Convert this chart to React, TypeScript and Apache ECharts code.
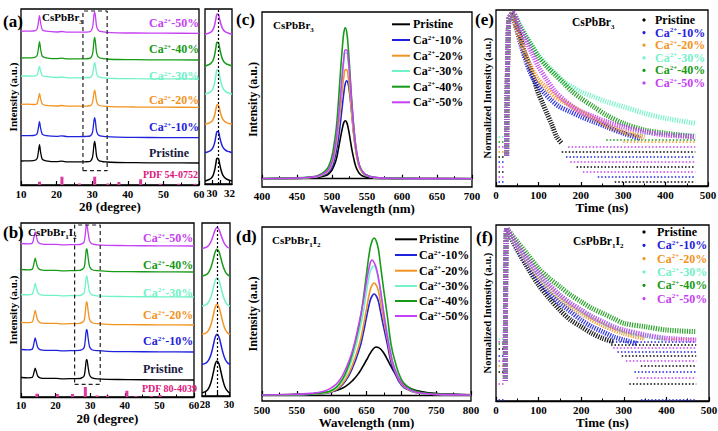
import React, { useEffect, useRef } from "react";
import * as echarts from "echarts";

const FONT = '"Liberation Serif", "Times New Roman", serif';
const COLORS = ["#000000", "#1e22dc", "#f39322", "#72f2c8", "#179a17", "#c640f4"];
const SAMPLES = ["Pristine", "10%", "20%", "30%", "40%", "50%"];
const XRD_PRISTINE_TEXT = "#1a1a40";
const PDF_TEXT = "#e0147c";
const PDF_BAR = "#dc3a9e";

// ---------- (a) XRD CsPbBr3 ----------
const xrdAX = [10, 12, 13.5, 14.5, 14.9, 15.2, 15.5, 16, 17, 20, 21.5, 23, 26, 28, 29.5, 30.1, 30.5, 30.7, 30.9, 31.3, 32, 34, 37, 42, 50, 60];
const xrdAPristine = [24, 24.2, 24.3, 26.2, 33.7, 40.4, 32.9, 25.6, 24.2, 23.3, 23.8, 23.1, 23.1, 23.2, 23.8, 28, 40.4, 43.5, 39.4, 27.9, 24.1, 23, 22.5, 22.3, 22.1, 22];
const xrdACa10 = [49.3, 49.4, 49.5, 51.1, 57.6, 63.3, 56.9, 50.6, 49.4, 48.6, 49.1, 48.4, 48.4, 48.5, 49.1, 52.9, 64.5, 67.4, 63.5, 52.8, 49.4, 48.3, 47.8, 47.6, 47.4, 47.3];
const xrdACa20 = [80.7, 80.8, 80.5, 81.2, 86.8, 91.7, 86.2, 80.8, 79.7, 79, 79.5, 78.8, 78.8, 78.8, 79.3, 82.6, 92.4, 94.8, 91.5, 82.5, 79.5, 78.6, 78.2, 78, 77.8, 77.7];
const xrdACa30 = [109, 109, 108.8, 109.8, 114.6, 118.9, 114.1, 109.4, 108.3, 107.5, 108, 107.2, 107.1, 107.1, 107.6, 110.7, 120.1, 122.5, 119.4, 110.6, 107.8, 106.9, 106.5, 106.3, 106.1, 106];
const xrdACa40 = [127, 127.2, 127.3, 129.2, 136.7, 143.4, 135.9, 128.6, 127.2, 126.3, 126.8, 126.1, 126.1, 126.2, 126.9, 131.2, 144.2, 147.5, 143.2, 131.1, 127.2, 126, 125.5, 125.3, 125.1, 125];
const xrdACa50 = [153.7, 153.9, 154, 155.8, 163, 169.4, 162.2, 155.2, 153.8, 153, 153.5, 152.8, 152.8, 152.9, 153.5, 157.7, 170.1, 173.2, 169.1, 157.6, 153.8, 152.7, 152.2, 152, 151.8, 151.7];
const pdfAPos = [15.2, 21.5, 26.4, 30.7, 34.4, 37.5, 43.6, 49.1, 54.3, 58.9];
const pdfAH = [3.3, 8.3, 1.5, 8.3, 1.5, 3, 5.7, 1.2, 1.2, 1.2];
const boxA = [[27.4, 14.3], [34.2, 14.3], [34.2, 174], [27.4, 174], [27.4, 14.3]];
const labelAY = [153.3, 127, 100, 76, 49.3, 23.3];

// (a) inset
const insAX = [29.2, 29.6, 29.9, 30.1, 30.3, 30.45, 30.6, 30.75, 30.9, 31.1, 31.3, 31.6, 32.0, 32.3];
const insAPristine = [3, 4.2, 5.8, 8.1, 13.5, 20.5, 25.8, 25.1, 19.3, 12.3, 8.1, 5.3, 3.9, 3];
const insACa10 = [31.3, 32.4, 33.9, 36.1, 41.1, 47.6, 52.6, 51.9, 46.5, 40, 36.1, 33.5, 32.2, 31.3];
const insACa20 = [59.7, 60.7, 62.1, 64.1, 68.7, 74.7, 79.3, 78.7, 73.7, 67.7, 64.1, 61.7, 60.5, 59.7];
const insACa30 = [89.7, 91, 92.7, 95.2, 101, 108.5, 114.2, 113.5, 107.2, 99.7, 95.2, 92.2, 90.7, 89.7];
const insACa40 = [118, 119.2, 120.9, 123.3, 128.9, 136.2, 141.8, 141.1, 135, 127.7, 123.3, 120.4, 119, 118];
const insACa50 = [149.7, 150.7, 152.2, 154.2, 159, 165.2, 169.9, 169.3, 164.1, 157.9, 154.2, 151.8, 150.5, 149.7];
const insAGuide = 30.7;

// ---------- (b) XRD CsPbBr1I2 ----------
const xrdBX = [10, 12, 13.3, 13.8, 14.1, 14.4, 14.8, 15.5, 17, 20.2, 22, 25, 27, 28.2, 28.6, 28.9, 29.1, 29.4, 29.8, 30.5, 32, 35, 41, 50, 60];
const xrdBPristine = [19.5, 19.2, 19.8, 25.3, 28.8, 25.7, 21.2, 19.2, 18.6, 18.6, 18.1, 18.4, 18.5, 20.8, 28.8, 37.4, 36.8, 29.8, 22.1, 19.1, 18.2, 17.7, 17.4, 17.1, 17];
const xrdBCa10 = [47.5, 47.2, 48, 54.8, 59.1, 55.3, 49.8, 47.3, 46.6, 46.6, 46.1, 46.4, 46.6, 49.1, 57.9, 67.4, 66.7, 59, 50.5, 47.2, 46.3, 45.7, 45.4, 45.1, 45];
const xrdBCa20 = [74.5, 74.3, 75.1, 82.1, 86.5, 82.6, 76.9, 74.4, 73.7, 73.6, 73.1, 73.4, 73.6, 76.2, 85.3, 95, 94.4, 86.4, 77.7, 74.3, 73.3, 72.7, 72.4, 72.1, 72];
const xrdBCa30 = [102.5, 102.2, 103, 109.4, 113.5, 109.9, 104.6, 102.3, 101.6, 101.6, 101.1, 101.4, 101.5, 103.9, 112.1, 120.9, 120.3, 113.1, 105.2, 102.1, 101.2, 100.7, 100.4, 100.1, 100];
const xrdBCa40 = [127.5, 127.2, 128, 134.6, 138.8, 135.1, 129.7, 127.3, 126.6, 126.6, 126.1, 126.4, 126.6, 129.2, 138.3, 148, 147.4, 139.4, 130.7, 127.3, 126.3, 125.7, 125.4, 125.1, 125];
const xrdBCa50 = [153.5, 153.2, 154, 160.8, 165.1, 161.3, 155.8, 153.3, 152.6, 152.6, 152.1, 152.4, 152.5, 154.9, 163.2, 172.1, 171.5, 164.2, 156.3, 153.1, 152.2, 151.7, 151.4, 151.1, 151];
const pdfBPos = [14.6, 20.5, 24.9, 28.6, 32, 35, 40.6, 43.2, 47.7, 50.2];
const pdfBH = [3.3, 3, 3, 10, 1.5, 1.5, 6.3, 1, 1, 2];
const boxB = [[25.5, 12.7], [32.9, 12.7], [32.9, 172], [25.5, 172], [25.5, 12.7]];
const labelBY = [369, 341, 315, 292.7, 265, 238.3];

// (b) inset
const insBX = [27.75, 28.1, 28.3, 28.5, 28.7, 28.85, 29.0, 29.15, 29.3, 29.5, 29.7, 29.9, 30.08];
const insBPristine = [3.3, 4.9, 7.7, 13.8, 23.9, 31.8, 35, 32.5, 25.5, 15.3, 8, 4.6, 3.3];
const insBCa10 = [31.7, 33.2, 35.9, 41.6, 51.2, 58.7, 61.7, 59.3, 52.7, 43.1, 36.2, 32.9, 31.7];
const insBCa20 = [61.7, 63.2, 65.9, 71.6, 81.2, 88.7, 91.7, 89.3, 82.7, 73.1, 66.2, 62.9, 61.7];
const insBCa30 = [90, 91.4, 94, 99.3, 108.4, 115.5, 118.3, 116, 109.8, 100.8, 94.2, 91.1, 90];
const insBCa40 = [120, 121.3, 123.7, 128.8, 137.4, 144, 146.7, 144.6, 138.7, 130.1, 124, 121.1, 120];
const insBCa50 = [147.7, 148.7, 150.6, 154.5, 161.1, 166.2, 168.3, 166.7, 162.1, 155.5, 150.8, 148.5, 147.7];
const insBGuide = 29.0;

// ---------- (c) PL CsPbBr3 ----------
const plCX = [400, 440, 460, 470, 480, 490, 495, 500, 503, 506, 509, 512, 515, 517, 519, 521, 523, 525, 528, 531, 534, 537, 540, 545, 550, 560, 580, 620, 700];
const plCPristine = [0, 0.2, 0.5, 0.7, 1.2, 2.9, 4.6, 8.7, 13.3, 19.1, 29, 40.6, 51, 56.3, 58, 56.3, 51, 43.5, 30.7, 20.3, 12.2, 7.5, 4.6, 2.3, 1.3, 0.6, 0.2, 0.1, 0];
const plCCa10 = [0, 0.4, 0.8, 1.2, 1.9, 4.1, 6.4, 11.3, 17.6, 26.5, 39.2, 55.9, 74.5, 86.2, 95.1, 98, 95.1, 86.2, 66.6, 45.1, 29.4, 17.6, 10.8, 4.9, 2.7, 1.1, 0.4, 0.1, 0];
const plCCa20 = [0, 0.4, 0.9, 1.3, 2.2, 5, 7.7, 14.3, 22, 33, 49.5, 69.3, 90.2, 102.3, 108.9, 108.9, 102.3, 90.2, 66, 44, 27.5, 16.5, 9.9, 5, 2.8, 1.1, 0.4, 0.1, 0];
const plCCa30 = [0, 0.5, 1, 1.5, 2.5, 5.7, 8.9, 16.5, 25.4, 38.1, 57.2, 80, 104.1, 118.1, 125.7, 125.7, 118.1, 104.1, 76.2, 50.8, 31.8, 19.1, 11.4, 5.7, 3.2, 1.3, 0.5, 0.1, 0];
const plCCa40 = [0, 0.6, 1.2, 1.8, 3.2, 7.6, 12.1, 22.7, 34.7, 49.8, 75.5, 105.7, 132.9, 146.5, 151, 146.5, 132.9, 113.3, 80, 52.9, 31.7, 19.6, 12.1, 6, 3.5, 1.5, 0.6, 0.2, 0];
const plCCa50 = [0, 0.5, 1, 1.6, 2.6, 5.9, 9.1, 16.9, 26, 39, 58.5, 81.9, 106.6, 120.9, 128.7, 128.7, 120.9, 106.6, 78, 52, 32.5, 19.5, 11.7, 5.9, 3.3, 1.3, 0.5, 0.1, 0];

// ---------- (d) PL CsPbBr1I2 ----------
const plDX = [500, 540, 570, 590, 600, 610, 620, 630, 640, 645, 650, 655, 658, 661, 664, 667, 670, 675, 680, 685, 690, 700, 710, 720, 740, 760, 800];
const plDPristine = [0.1, 0.5, 1.2, 2.4, 3.6, 5.3, 8.6, 14.4, 23, 28.8, 35, 41.3, 44.6, 47, 48, 47.5, 46.1, 41.8, 35.5, 28.8, 22.6, 13, 7.7, 4.8, 2.2, 1.1, 0.3];
const plDCa10 = [0, 0.2, 0.6, 1.6, 3, 6.6, 14.1, 27.3, 46.5, 60.6, 77.8, 93.9, 99, 101, 99, 93.9, 83.8, 66.7, 50.5, 33.3, 23.2, 10.1, 5.1, 2.5, 1, 0.4, 0];
const plDCa20 = [0, 0.2, 0.7, 1.8, 3.4, 7.3, 15.7, 30.2, 51.5, 67.2, 86.2, 104.2, 109.8, 112, 109.8, 104.2, 93, 73.9, 56, 37, 25.8, 11.2, 5.6, 2.8, 1.1, 0.4, 0];
const plDCa30 = [0, 0.3, 0.8, 2.2, 4.1, 9, 19.4, 37.4, 64.5, 81.3, 103.2, 122.6, 127.7, 129, 125.1, 116.1, 103.2, 81.3, 61.9, 41.3, 28.4, 12.9, 6.2, 3, 1, 0.4, 0];
const plDCa40 = [0, 0.3, 0.9, 2.5, 4.7, 10.2, 22, 42.4, 72.2, 94.2, 120.9, 146, 153.9, 157, 153.9, 146, 130.3, 103.6, 78.5, 51.8, 36.1, 15.7, 7.9, 3.9, 1.6, 0.6, 0];
const plDCa50 = [0, 0.5, 1.6, 4.1, 7.4, 13.5, 25.7, 44.6, 74.3, 91.8, 113.4, 131, 135, 132.3, 126.9, 117.5, 105.3, 81, 58, 40.5, 27, 12.2, 6.1, 3, 1.1, 0.4, 0];

// ---------- (e) TRPL CsPbBr3 [time ns, level] ----------
const trplEPristine = [[25, 30], [30, 166], [38, 171], [45, 162.7], [57, 149.3], [68, 132.7], [80, 119.3], [90, 106], [100, 92.7], [110, 82.7], [120, 72.7], [132, 61], [143, 49.3], [155, 42.7]];
const trplECa10 = [[25, 30], [30, 166], [38, 172], [48, 157.7], [60, 139.3], [70, 126], [80, 114.3], [90, 106], [100, 100], [115, 92.7], [130, 86], [150, 79.3], [175, 74.3], [200, 69.3], [230, 64.3], [260, 59.3], [300, 52.7], [340, 47.7]];
const trplECa20 = [[25, 30], [30, 166], [38, 172], [48, 157.7], [60, 142.7], [70, 131], [80, 121], [90, 112.7], [100, 106], [120, 97.7], [140, 89.3], [160, 84.3], [180, 79.3], [200, 74.3], [230, 67.7], [260, 61], [300, 54.3], [350, 48.7]];
const trplECa30 = [[25, 30], [30, 166], [40, 172.7], [55, 162], [70, 151], [85, 141], [100, 131], [120, 121], [140, 112.7], [160, 104.3], [180, 99.3], [200, 94.3], [230, 89.3], [260, 84.3], [300, 79.3], [350, 72.7], [400, 67.7], [470, 62.7]];
const trplECa40 = [[25, 30], [30, 166], [40, 172.7], [55, 161], [70, 149.3], [85, 139.3], [100, 129.3], [120, 119.3], [140, 111], [160, 102.7], [180, 94.3], [200, 87.7], [230, 79.3], [260, 71], [300, 62.7], [350, 56], [400, 52.7], [470, 49.3]];
const trplECa50 = [[25, 30], [30, 166], [40, 172.7], [55, 159.3], [70, 146], [85, 132.7], [100, 119.3], [120, 106], [140, 94.3], [160, 86], [180, 79.3], [200, 74.3], [230, 69.3], [260, 64.3], [300, 59.3], [350, 54.3], [400, 51], [470, 49.3]];
// noise floor rows [tStart, tEnd, level]
const floorEPristine = [[155, 470, 34.3], [190, 470, 19.3], [280, 470, 4.3], [6, 22, 29.3], [6, 22, 14.3]];
const floorECa10 = [[165, 470, 29.3], [240, 470, 9.3], [6, 22, 24.3], [6, 22, 4.3]];
const floorECa20 = [[6, 22, 34.3], [300, 470, 44]];
const floorECa30 = [[6, 22, 49], [300, 470, 52]];
const floorECa40 = [[6, 22, 44], [260, 470, 46]];
const floorECa50 = [[170, 470, 39.3], [175, 470, 24.3], [205, 470, 14.3], [6, 22, 39.3], [6, 22, 19.3], [6, 22, 9.3]];

// ---------- (f) TRPL CsPbBr1I2 ----------
const trplFPristine = [[22, 20], [25, 172.7], [50, 151], [75, 132.7], [100, 116], [125, 102.7], [150, 91], [175, 81], [200, 74.3], [225, 67.7], [250, 62.7], [275, 59.3]];
const trplFCa10 = [[22, 20], [25, 172.7], [50, 152.7], [75, 136], [100, 121], [125, 107.7], [150, 97.7], [175, 89.3], [200, 81], [225, 74.3], [250, 69.3], [275, 64.3], [300, 61], [330, 57.7]];
const trplFCa20 = [[22, 20], [25, 172.7], [50, 154.3], [100, 124.3], [150, 102.7], [200, 87.7], [250, 76], [300, 67.7], [350, 62.7]];
const trplFCa30 = [[22, 20], [25, 172.7], [50, 155.3], [100, 126.7], [150, 105], [200, 90], [250, 78.7], [300, 70], [350, 65.3], [400, 62]];
const trplFCa40 = [[22, 20], [25, 172.7], [50, 159.3], [75, 146], [100, 132.7], [125, 122.7], [150, 114.3], [175, 106], [200, 99.3], [225, 92.7], [250, 87.7], [275, 82.7], [300, 77.7], [350, 74.3], [400, 71], [470, 69.3]];
const trplFCa50 = [[22, 20], [25, 172.7], [50, 156], [75, 141], [100, 127.7], [125, 116], [150, 106], [175, 97.7], [200, 91], [225, 84.3], [250, 79.3], [275, 74.3], [300, 71], [350, 66], [400, 62.7], [470, 61]];
const floorFPristine = [[270, 470, 56.7], [295, 470, 45.3], [340, 470, 35.3], [313, 470, 17.7], [6, 22, 52], [6, 22, 29.3]];
const floorFCa10 = [[265, 470, 59.3], [285, 470, 49.3], [325, 470, 29.3], [340, 470, 1.5], [6, 22, 45], [6, 22, 1.5]];
const floorFCa20 = [[380, 470, 62.5], [6, 22, 35]];
const floorFCa30 = [[6, 22, 62]];
const floorFCa40 = [[6, 22, 57]];
const floorFCa50 = [[275, 470, 53.3], [305, 470, 40.3], [330, 470, 23], [6, 22, 59], [6, 22, 40], [6, 22, 17.7]];

// ---------- builders ----------
function pairs(xs: number[], ys: number[]) {
  return xs.map((x, i) => [x, ys[i]]);
}
function sampleText(i: number) {
  return i === 0 ? "{b|Pristine}" : "{b|Ca}{s|2+}{b|-" + SAMPLES[i] + "}";
}
function richStyle(size: number, color: string, lh: number) {
  const sm = Math.round(size * 0.62);
  return {
    b: { fontSize: size, fontWeight: "bold", fontFamily: FONT, fill: color, color, lineHeight: lh },
    s: { fontSize: sm, fontWeight: "bold", fontFamily: FONT, fill: color, color, verticalAlign: "top" },
    u: { fontSize: sm, fontWeight: "bold", fontFamily: FONT, fill: color, color, verticalAlign: "bottom" },
  };
}
function text(x: number, y: number, t: string, size: number, color: string, lh?: number) {
  return {
    type: "text",
    x,
    y,
    silent: true,
    z: 100,
    style: {
      text: t,
      fill: color,
      fontSize: size,
      fontWeight: "bold",
      fontFamily: FONT,
      align: "left",
      verticalAlign: "middle",
      rich: richStyle(size, color, lh === undefined ? size : lh),
    },
  };
}

const axisLabelStyle = { color: "#000", fontFamily: FONT, fontWeight: "bold", fontSize: 11, margin: 3 };
const tickStyle = { show: true, inside: true, length: 4, lineStyle: { color: "#000", width: 1.2 } };
const minorTickStyle = { show: true, splitNumber: 2, length: 2.5, lineStyle: { color: "#000", width: 1 } };

function xAxis(gi: number, min: number, max: number, interval: number | undefined, name: string, extra: any = {}) {
  return {
    type: "value",
    gridIndex: gi,
    min,
    max,
    interval,
    name,
    nameLocation: "middle",
    nameGap: 13,
    nameTextStyle: { color: "#000", fontFamily: FONT, fontWeight: "bold", fontSize: 13 },
    axisLine: { show: true, lineStyle: { color: "#000", width: 1.3 } },
    axisTick: tickStyle,
    minorTick: minorTickStyle,
    axisLabel: axisLabelStyle,
    splitLine: { show: false },
    minorSplitLine: { show: false },
    ...extra,
  };
}
function yAxis(gi: number, min: number, max: number, name: string, nameSize: number) {
  return {
    type: "value",
    gridIndex: gi,
    min,
    max,
    name,
    nameLocation: "middle",
    nameGap: 3,
    nameTextStyle: { color: "#000", fontFamily: FONT, fontWeight: "bold", fontSize: nameSize },
    axisLine: { show: false },
    axisTick: { show: false },
    axisLabel: { show: false },
    splitLine: { show: false },
  };
}
function grid(left: number, top: number, width: number, height: number) {
  return { left, top, width, height, show: true, borderColor: "#000", borderWidth: 1.3, containLabel: false, outerBoundsMode: "none" };
}
function lineS(ai: number, data: any[], color: string, width: number, smooth: any, extra: any = {}) {
  return {
    type: "line",
    xAxisIndex: ai,
    yAxisIndex: ai,
    data,
    symbol: "none",
    smooth,
    silent: true,
    lineStyle: { color, width },
    itemStyle: { color },
    ...extra,
  };
}
function guide(x: number) {
  return {
    markLine: {
      silent: true,
      symbol: ["none", "none"],
      label: { show: false },
      lineStyle: { type: [2, 2], color: "#000", width: 1.2 },
      data: [{ xAxis: x }],
    },
  };
}
function floorS(ai: number, rows: number[][], color: string) {
  return {
    type: "lines",
    coordinateSystem: "cartesian2d",
    xAxisIndex: ai,
    yAxisIndex: ai,
    silent: true,
    data: rows.map((r) => ({ coords: [[r[0], r[2]], [r[1], r[2]]] })),
    lineStyle: { color, width: 1.6, type: [1.5, 2], opacity: 1, curveness: 0 },
  };
}
function trplS(ai: number, d: number[][], color: string) {
  return lineS(ai, d, color, 5, 0.3, { lineStyle: { color, width: 5, type: [1.2, 1.2], opacity: 0.9 } });
}

export default function App() {
  const ref = useRef<HTMLDivElement>(null);
  useEffect(() => {
    if (!ref.current) return;
    const chart = echarts.init(ref.current, undefined, { renderer: "svg" });

    const xrdA = [xrdAPristine, xrdACa10, xrdACa20, xrdACa30, xrdACa40, xrdACa50];
    const insA = [insAPristine, insACa10, insACa20, insACa30, insACa40, insACa50];
    const xrdB = [xrdBPristine, xrdBCa10, xrdBCa20, xrdBCa30, xrdBCa40, xrdBCa50];
    const insB = [insBPristine, insBCa10, insBCa20, insBCa30, insBCa40, insBCa50];
    const plC = [plCPristine, plCCa10, plCCa20, plCCa30, plCCa40, plCCa50];
    const plD = [plDPristine, plDCa10, plDCa20, plDCa30, plDCa40, plDCa50];
    const trE = [trplEPristine, trplECa10, trplECa20, trplECa30, trplECa40, trplECa50];
    const trF = [trplFPristine, trplFCa10, trplFCa20, trplFCa30, trplFCa40, trplFCa50];
    const flE = [floorEPristine, floorECa10, floorECa20, floorECa30, floorECa40, floorECa50];
    const flF = [floorFPristine, floorFCa10, floorFCa20, floorFCa30, floorFCa40, floorFCa50];

    const series: any[] = [];
    // (a)
    xrdA.forEach((ys, i) => series.push(lineS(0, pairs(xrdAX, ys), COLORS[i], 1.3, 0.25)));
    series.push(lineS(0, boxA, "#222", 1.2, false, { lineStyle: { color: "#222", width: 1.2, type: [4, 3] } }));
    series.push({ type: "bar", xAxisIndex: 0, yAxisIndex: 0, data: pairs(pdfAPos, pdfAH), barWidth: 3, silent: true, itemStyle: { color: PDF_BAR } });
    insA.forEach((ys, i) => series.push(lineS(1, pairs(insAX, ys), COLORS[i], 1.5, true, i === 0 ? guide(insAGuide) : {})));
    // (b)
    xrdB.forEach((ys, i) => series.push(lineS(2, pairs(xrdBX, ys), COLORS[i], 1.3, 0.25)));
    series.push(lineS(2, boxB, "#222", 1.2, false, { lineStyle: { color: "#222", width: 1.2, type: [4, 3] } }));
    series.push({ type: "bar", xAxisIndex: 2, yAxisIndex: 2, data: pairs(pdfBPos, pdfBH), barWidth: 3, silent: true, itemStyle: { color: PDF_BAR } });
    insB.forEach((ys, i) => series.push(lineS(3, pairs(insBX, ys), COLORS[i], 1.5, true, i === 0 ? guide(insBGuide) : {})));
    // (c), (d)
    plC.forEach((ys, i) => series.push(lineS(4, pairs(plCX, ys), COLORS[i], 1.6, true)));
    plD.forEach((ys, i) => series.push(lineS(5, pairs(plDX, ys), COLORS[i], 1.6, true)));
    // (e), (f)
    flE.forEach((rows, i) => series.push(floorS(6, rows, COLORS[i])));
    flF.forEach((rows, i) => series.push(floorS(7, rows, COLORS[i])));
    trE.forEach((d, i) => series.push(trplS(6, d, COLORS[i])));
    trF.forEach((d, i) => series.push(trplS(7, d, COLORS[i])));

    const els: any[] = [];
    // panel letters
    els.push(text(3, 21, "(a)", 17, "#000"));
    els.push(text(3, 232, "(b)", 17, "#000"));
    els.push(text(236, 19, "(c)", 17, "#000"));
    els.push(text(236, 236, "(d)", 17, "#000"));
    els.push(text(475, 19, "(e)", 17, "#000"));
    els.push(text(476, 237, "(f)", 17, "#000"));
    // titles (subscripts)
    els.push(text(42, 17, "{b|CsPbBr}{u|3}", 11, "#000", 17));
    els.push(text(28, 232, "{b|CsPbBr}{u|1}{b|I}{u|2}", 11, "#000", 17));
    els.push(text(273, 25, "{b|CsPbBr}{u|3}", 11, "#000", 17));
    els.push(text(272, 240, "{b|CsPbBr}{u|1}{b|I}{u|2}", 11, "#000", 17));
    els.push(text(572, 22, "{b|CsPbBr}{u|3}", 11.5, "#000", 17));
    els.push(text(573, 241, "{b|CsPbBr}{u|1}{b|I}{u|2}", 11.5, "#000", 17));
    // PDF labels
    els.push(text(143, 174, "PDF 54-0752", 10, PDF_TEXT));
    els.push(text(142, 388, "PDF 80-4039", 10, PDF_TEXT));
    // XRD curve labels
    SAMPLES.forEach((_, i) => {
      const c = i === 0 ? XRD_PRISTINE_TEXT : COLORS[i];
      els.push(text(149, labelAY[i], sampleText(i), 12, c));
      els.push(text(143, labelBY[i], sampleText(i), 12, c));
    });
    // PL legends
    const legC = [24.3, 40, 55.7, 71, 86.7, 102.3];
    const legD = [239.3, 255, 270.7, 286, 301, 316];
    SAMPLES.forEach((_, i) => {
      els.push({ type: "line", silent: true, shape: { x1: 392, y1: legC[i], x2: 410, y2: legC[i] }, style: { stroke: COLORS[i], lineWidth: 2 } });
      els.push(text(413, legC[i], sampleText(i), 12, "#000"));
      els.push({ type: "line", silent: true, shape: { x1: 395, y1: legD[i], x2: 417, y2: legD[i] }, style: { stroke: COLORS[i], lineWidth: 2 } });
      els.push(text(419, legD[i], sampleText(i), 12, "#000"));
    });
    // TRPL legends
    const legE = [20, 32.6, 45.2, 57.8, 70.4, 83];
    const legF = [232, 245.3, 258.6, 272, 285.3, 298.6];
    SAMPLES.forEach((_, i) => {
      els.push({ type: "circle", silent: true, shape: { cx: 644, cy: legE[i], r: 1.6 }, style: { fill: COLORS[i] } });
      els.push(text(655, legE[i], sampleText(i), 12, COLORS[i]));
      els.push({ type: "circle", silent: true, shape: { cx: 644, cy: legF[i], r: 1.6 }, style: { fill: COLORS[i] } });
      els.push(text(657, legF[i], sampleText(i), 12, COLORS[i]));
    });

    const option: any = {
      animation: false,
      backgroundColor: "#ffffff",
      textStyle: { fontFamily: FONT },
      grid: [
        grid(21, 9, 178, 176),
        grid(205, 9, 27, 175),
        grid(21, 223, 173, 174),
        grid(202, 223, 28, 173),
        grid(262, 12, 210, 175),
        grid(262, 227, 209, 174),
        grid(496, 10, 212, 176),
        grid(496, 225, 213, 176),
      ],
      xAxis: [
        xAxis(0, 10, 60, 10, "2θ (degree)"),
        xAxis(1, 29.2, 32.3, undefined, "", {
          axisLabel: { ...axisLabelStyle, customValues: [30, 32] },
          axisTick: { ...tickStyle, customValues: [30, 31, 32] },
          minorTick: { show: false },
        }),
        xAxis(2, 10, 60, 10, "2θ (degree)", { axisLabel: { ...axisLabelStyle, fontSize: 10.5 } }),
        xAxis(3, 27.75, 30.08, undefined, "", {
          axisLabel: { ...axisLabelStyle, fontSize: 10.5, customValues: [28, 30] },
          axisTick: { ...tickStyle, customValues: [28, 29, 30] },
          minorTick: { show: false },
        }),
        xAxis(4, 400, 700, 50, "Wavelength (nm)"),
        xAxis(5, 500, 800, 50, "Wavelength (nm)"),
        xAxis(6, 0, 500, 100, "Time (ns)"),
        xAxis(7, 0, 500, 100, "Time (ns)"),
      ],
      yAxis: [
        yAxis(0, 0, 176, "Intensity (a.u.)", 11),
        yAxis(1, 0, 175, "", 11),
        yAxis(2, 0, 174, "Intensity (a.u.)", 11),
        yAxis(3, 0, 173, "", 11),
        yAxis(4, -8.3, 166.7, "Intensity (a.u.)", 12),
        yAxis(5, -6, 168, "Intensity (a.u.)", 12),
        yAxis(6, 0, 176, "Normalized Intensity (a.u.)", 10.5),
        yAxis(7, 0, 176, "Normalized Intensity (a.u.)", 10.5),
      ],
      series,
      graphic: { elements: els },
    };
    chart.setOption(option);
    return () => chart.dispose();
  }, []);
  return (
    <div
      ref={ref}
      style={{ position: "absolute", left: 0, top: 0, width: 718, height: 431, background: "#fff" }}
    />
  );
}
